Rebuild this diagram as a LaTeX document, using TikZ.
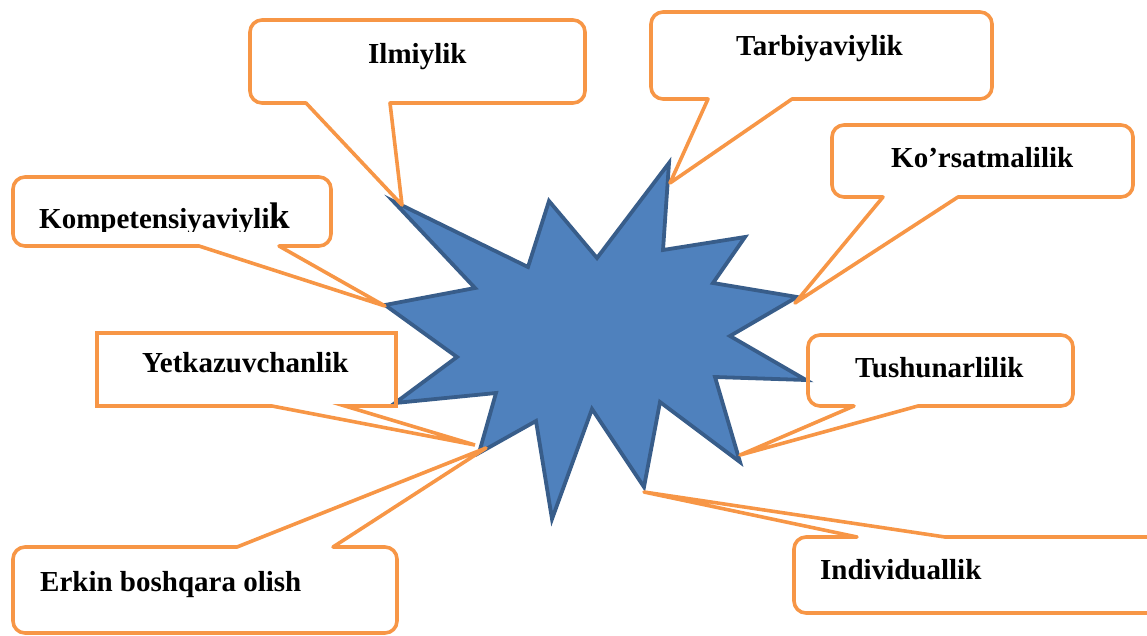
\documentclass[tikz,border=0pt]{standalone}
\usepackage{fontspec}
\setmainfont{Liberation Serif}
\definecolor{callorange}{HTML}{F79646}
\definecolor{starfill}{HTML}{4F81BD}
\definecolor{starline}{HTML}{385D8A}
\tikzset{
  callout/.style={draw=callorange, line width=3.6pt, line join=round, line cap=round},
  starshape/.style={draw=starline, fill=starfill, line width=3.8pt, line join=miter},
  lbl/.style={anchor=base west, inner sep=0pt, font=\fontsize{29}{34}\selectfont\bfseries}
}
\begin{document}
\begin{tikzpicture}[x=1pt, y=-1pt]
\useasboundingbox (0,0) rectangle (1147,635);
\clip (0,0) rectangle (1147,635);
% star
\draw[starshape] (393,201) -- (528,267) -- (549,201) -- (597,258) -- (669,163) -- (663,250)
  -- (745,237) -- (713,283) -- (797,297) -- (730,336) -- (806,380) -- (715,377)
  -- (740,462) -- (660,402) -- (644,487) -- (592,409) -- (552,519) -- (536,421)
  -- (479,453) -- (496,393) -- (395,403) -- (457,357) -- (385,305) -- (475,288) -- cycle;
% tips
\coordinate (tIlm) at (402,205);
\coordinate (tTar) at (670,183);
\coordinate (tKor) at (795,303);
\coordinate (tKom) at (385,306);
\coordinate (tYet) at (475,445);
\coordinate (tErk) at (486,448);
\coordinate (tTus) at (740,455);
\coordinate (tInd) at (644,492);
% Ilmiylik
\draw[callout] (390,103) [rounded corners=12pt] -- (585,103) -- (585,20) -- (250,20) -- (250,103) [sharp corners] -- (306,103) -- (tIlm) -- cycle;
% Tarbiyaviylik
\draw[callout] (792,99) [rounded corners=12pt] -- (992,99) -- (992,12) -- (651,12) -- (651,99) [sharp corners] -- (708,99) -- (tTar) -- cycle;
% Ko'rsatmalilik
\draw[callout] (958,197) [rounded corners=12pt] -- (1133,197) -- (1133,125) -- (832,125) -- (832,197) [sharp corners] -- (883,197) -- (tKor) -- cycle;
% Kompetensiyaviylik
\draw[callout] (279,246) [rounded corners=12pt] -- (331,246) -- (331,177) -- (13,177) -- (13,246) [sharp corners] -- (199,246) -- (tKom) -- cycle;
% Yetkazuvchanlik (square corners)
\draw[callout, line join=miter] (345,406) -- (396,406) -- (396,333) -- (97,333) -- (97,406) -- (272,406) -- (tYet) -- cycle;
% Erkin boshqara olish
\draw[callout] (237,547) [rounded corners=12pt] -- (13,547) -- (13,633) -- (397,633) -- (397,547) [sharp corners] -- (333,547) -- (tErk) -- cycle;
% Tushunarlilik
\draw[callout] (918,406) [rounded corners=12pt] -- (1073,406) -- (1073,335) -- (808,335) -- (808,406) [sharp corners] -- (854,406) -- (tTus) -- cycle;
% Individuallik
\draw[callout] (857,537) [rounded corners=12pt] -- (794,537) -- (794,613) -- (1165,613) -- (1165,537) [sharp corners] -- (945,537) -- (tInd) -- cycle;
% labels
\node[lbl] (ilm) at (368,63) {Ilmiylik};
\node[lbl] (tar) at (736,55) {Tarbiyaviylik};
\node[lbl] (kor) at (891,167) {Ko’rsatmalilik};
\begin{scope}
\clip (0,0) rectangle (1147,231);
\node[lbl] (kom) at (39,228) {Kompetensiyaviyli{\fontsize{37}{40}\selectfont k}};
\end{scope}
\node[lbl] (yet) at (142,372) {Yetkazuvchanlik};
\node[lbl] (erk) at (40,591) {Erkin boshqara olish};
\node[lbl] (tus) at (855,377) {Tushunarlilik};
\node[lbl] (ind) at (820,579) {Individuallik};
\end{tikzpicture}
\end{document}
